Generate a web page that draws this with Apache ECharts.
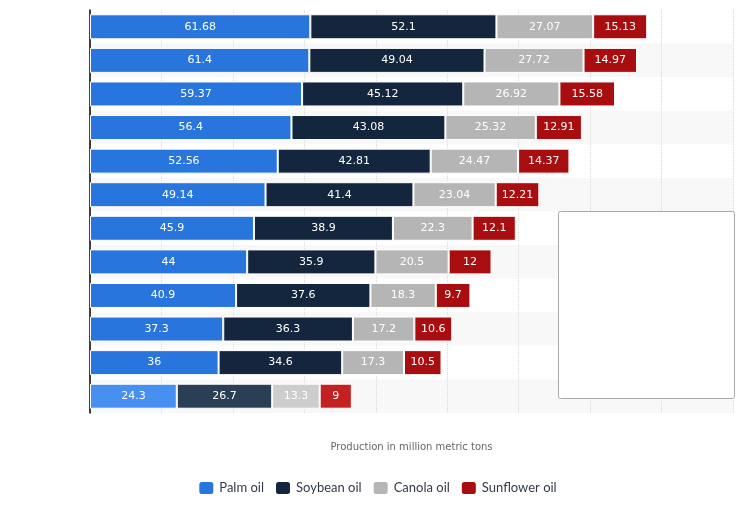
<!DOCTYPE html>
<html>
<head>
<meta charset="utf-8">
<script src="https://cdn.jsdelivr.net/npm/echarts@6/dist/echarts.min.js"></script>
<style>
  html, body { margin: 0; padding: 0; background: #fff; }
  #chart { width: 754px; height: 520px; }
</style>
</head>
<body>
<div id="chart"></div>
<script>
// 年份（图中没有显示）
const years = ['2023/24', '2022/23', '2021/22', '2020/21', '2019/20', '2018/19',
  '2017/18', '2016/17', '2015/16', '2014/15', '2013/14', '2000/01'];
const palmOil = [61.68, 61.4, 59.37, 56.4, 52.56, 49.14, 45.9, 44, 40.9, 37.3, 36, 24.3];
const soybeanOil = [52.1, 49.04, 45.12, 43.08, 42.81, 41.4, 38.9, 35.9, 37.6, 36.3, 34.6, 26.7];
const canolaOil = [27.07, 27.72, 26.92, 25.32, 24.47, 23.04, 22.3, 20.5, 18.3, 17.2, 17.3, 13.3];
const sunflowerOil = [15.13, 14.97, 15.58, 12.91, 14.37, 12.21, 12.1, 12, 9.7, 10.6, 10.5, 9];

const seriesNames = ['Palm oil', 'Soybean oil', 'Canola oil', 'Sunflower oil'];
const colors = ['#2876dd', '#13263d', '#b5b5b5', '#a80d0f'];
// 最后一行是悬停状态，颜色更浅
const hoverColors = ['#4790ef', '#2a3f56', '#cdcdcd', '#c42222'];

function makeSeries(name, values, i) {
  return {
    name: name,
    type: 'bar',
    stack: 'total',
    barWidth: 25,
    data: values.map((v, k) => k === values.length - 1
      ? { value: v, itemStyle: { color: hoverColors[i] } }
      : v),
    itemStyle: { color: colors[i], borderColor: '#fff', borderWidth: 1 },
    label: {
      show: true,
      position: 'inside',
      color: '#fff',
      fontSize: 11,
      fontFamily: 'DejaVu Sans'
    },
    emphasis: { disabled: true }
  };
}

const chart = echarts.init(document.getElementById('chart'));
chart.setOption({
  animation: false,
  grid: { left: 90, right: 21, top: 10, bottom: 107 },
  legend: {
    bottom: 19,
    left: 'center',
    icon: 'roundRect',
    itemWidth: 16,
    itemHeight: 14,
    itemGap: 10,
    textStyle: { color: '#333a48', fontSize: 13, fontFamily: 'Lato' },
    data: seriesNames
  },
  xAxis: {
    type: 'value',
    min: 0,
    max: 180,
    interval: 20,
    name: 'Production in million metric tons',
    nameLocation: 'middle',
    nameGap: 29,
    nameTextStyle: { color: '#666', fontSize: 10, fontFamily: 'DejaVu Sans' },
    axisLabel: { show: false },
    axisLine: { show: false },
    axisTick: { show: false },
    splitLine: { show: true, lineStyle: { color: '#d8d8d8', type: 'dotted' } }
  },
  yAxis: {
    type: 'category',
    inverse: true,
    data: years,
    axisLabel: { show: false },
    axisTick: { show: false },
    axisLine: { show: true, lineStyle: { color: '#000', width: 1.5 } },
    splitArea: { show: true, areaStyle: { color: ['#ffffff', '#f8f8f8'] } }
  },
  graphic: [{
    type: 'rect',
    left: 558,
    top: 211,
    z: 100,
    shape: { width: 176, height: 187, r: 2 },
    style: { fill: '#fff', stroke: '#aaaaaa', lineWidth: 1 }
  }],
  series: [
    makeSeries(seriesNames[0], palmOil, 0),
    makeSeries(seriesNames[1], soybeanOil, 1),
    makeSeries(seriesNames[2], canolaOil, 2),
    makeSeries(seriesNames[3], sunflowerOil, 3)
  ]
});
</script>
</body>
</html>
